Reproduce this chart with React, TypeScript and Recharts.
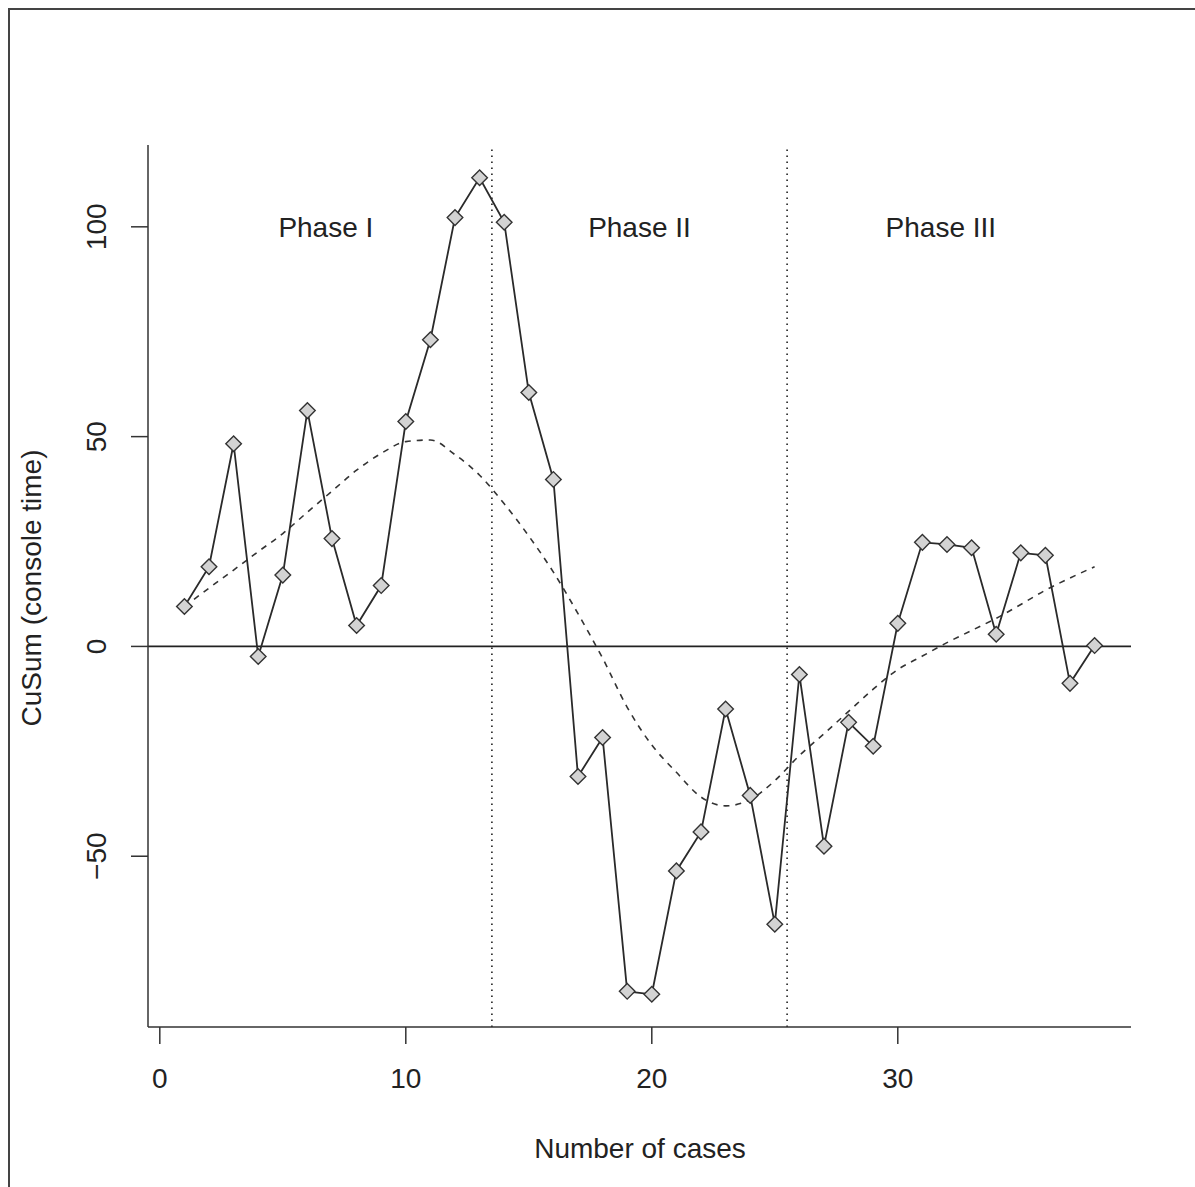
import React from "react";
import { ComposedChart, Line, XAxis, YAxis, ReferenceLine, ReferenceDot } from "recharts";

const cases = [1, 2, 3, 4, 5, 6, 7, 8, 9, 10, 11, 12, 13, 14, 15, 16, 17, 18, 19, 20, 21, 22, 23, 24, 25, 26, 27, 28, 29, 30, 31, 32, 33, 34, 35, 36, 37, 38];
const cusum = [
    9.5, 19, 48.3, -2.4, 17, 56.2, 25.7, 5, 14.5, 53.6, 73.1, 102.2, 111.7, 101.1, 60.5, 39.8, -31, -21.7, -82.2,
    -82.9, -53.5, -44.2, -14.9, -35.5, -66.2, -6.7, -47.6, -18.1, -23.8, 5.5, 24.8, 24.3, 23.5, 2.9, 22.3, 21.7, -8.8, 0.2,
];
const trend = [
    9.5, 13.9, 18.2, 22.6, 26.9, 32, 37, 42, 46, 48.8, 49.2, 45.7, 40.8, 34, 26.3, 17.7, 7.8, -2.8, -14.5, -23.5, -30,
    -35.9, -38, -36.5, -32, -26, -20.8, -15.5, -10.2, -5.5, -2.3, 0.9, 3.8, 6.7, 10, 13.4, 16.3, 19,
];
const xTicks = [0, 10, 20, 30];
const yTicks = [-50, 0, 50, 100];
const phaseBreaks = [13.5, 25.5];
const phases = [
    { name: "Phase I", x: 6.75 },
    { name: "Phase II", x: 19.5 },
    { name: "Phase III", x: 31.75 },
];

const data = cases.map((c, i) => ({ case: c, cusum: cusum[i], trend: trend[i] }));

const INK = "#222";
const FONT = 28;

const Diamond = (props: any) => {
    const { cx, cy, index } = props;
    if (cx == null || cy == null) return null;
    const r = 7.8;
    return (
        <path
            key={`d-${index}`}
            d={`M${cx},${cy - r}L${cx + r},${cy}L${cx},${cy + r}L${cx - r},${cy}Z`}
            fill="#d3d3d3"
            stroke="#333"
            strokeWidth={1.4}
        />
    );
};

const XTick = (props: any) => {
    const { x, payload } = props;
    return (
        <text x={x} y={1078} textAnchor="middle" dominantBaseline="central" fontSize={FONT} fill={INK}>
            {payload.value}
        </text>
    );
};

const YTick = (props: any) => {
    const { y, payload } = props;
    const label = payload.value < 0 ? `\u2212${Math.abs(payload.value)}` : `${payload.value}`;
    return (
        <text
            x={97}
            y={y}
            transform={`rotate(-90, 97, ${y})`}
            textAnchor="middle"
            dominantBaseline="central"
            fontSize={FONT}
            fill={INK}
        >
            {label}
        </text>
    );
};

export default function App() {
    return (
        <div
            style={{
                position: "relative",
                width: 1195,
                height: 1187,
                overflow: "hidden",
                background: "#fff",
                fontFamily: "'Liberation Sans', Arial, sans-serif",
            }}
        >
            <style>{"body{margin:0}"}</style>
            <div
                style={{
                    position: "absolute",
                    left: 8,
                    top: 8,
                    width: 1300,
                    height: 1300,
                    borderLeft: "2px solid #444",
                    borderTop: "2px solid #444",
                }}
            />
            <div style={{ position: "absolute", left: 0, top: 0 }}>
                <ComposedChart width={1195} height={1187} data={data} margin={{ top: 145, right: 64, bottom: 0, left: 0 }}>
                    <XAxis
                        type="number"
                        dataKey="case"
                        domain={[-0.48, 39.48]}
                        ticks={xTicks}
                        allowDataOverflow
                        height={160}
                        tickSize={17}
                        stroke="#333"
                        strokeWidth={1.5}
                        tick={<XTick />}
                        label={{
                            content: () => (
                                <text x={640} y={1148} textAnchor="middle" dominantBaseline="central" fontSize={FONT} fill={INK}>
                                    Number of cases
                                </text>
                            ),
                        }}
                    />
                    <YAxis
                        type="number"
                        domain={[-90.7, 119.5]}
                        ticks={yTicks}
                        allowDataOverflow
                        width={148}
                        tickSize={17}
                        stroke="#333"
                        strokeWidth={1.5}
                        tick={<YTick />}
                        label={{
                            content: () => (
                                <text
                                    x={31}
                                    y={588}
                                    transform="rotate(-90, 31, 588)"
                                    textAnchor="middle"
                                    dominantBaseline="central"
                                    fontSize={FONT}
                                    fill={INK}
                                >
                                    CuSum (console time)
                                </text>
                            ),
                        }}
                    />
                    <ReferenceLine y={0} stroke={INK} strokeWidth={1.6} />
                    {phaseBreaks.map((b) => (
                        <ReferenceLine key={b} x={b} stroke="#111" strokeWidth={1.5} strokeDasharray="1.5 4.5" />
                    ))}
                    {phases.map((p) => (
                        <ReferenceDot
                            key={p.name}
                            x={p.x}
                            y={100}
                            r={0}
                            fill="none"
                            stroke="none"
                            label={{ value: p.name, position: "center", fontSize: FONT, fill: INK }}
                        />
                    ))}
                    <Line
                        type="monotone"
                        dataKey="trend"
                        stroke="#333"
                        strokeWidth={1.6}
                        strokeDasharray="6 6"
                        dot={false}
                        activeDot={false}
                        isAnimationActive={false}
                    />
                    <Line
                        type="linear"
                        dataKey="cusum"
                        stroke="#2a2a2a"
                        strokeWidth={1.8}
                        dot={<Diamond />}
                        activeDot={false}
                        isAnimationActive={false}
                    />
                </ComposedChart>
            </div>
        </div>
    );
}
